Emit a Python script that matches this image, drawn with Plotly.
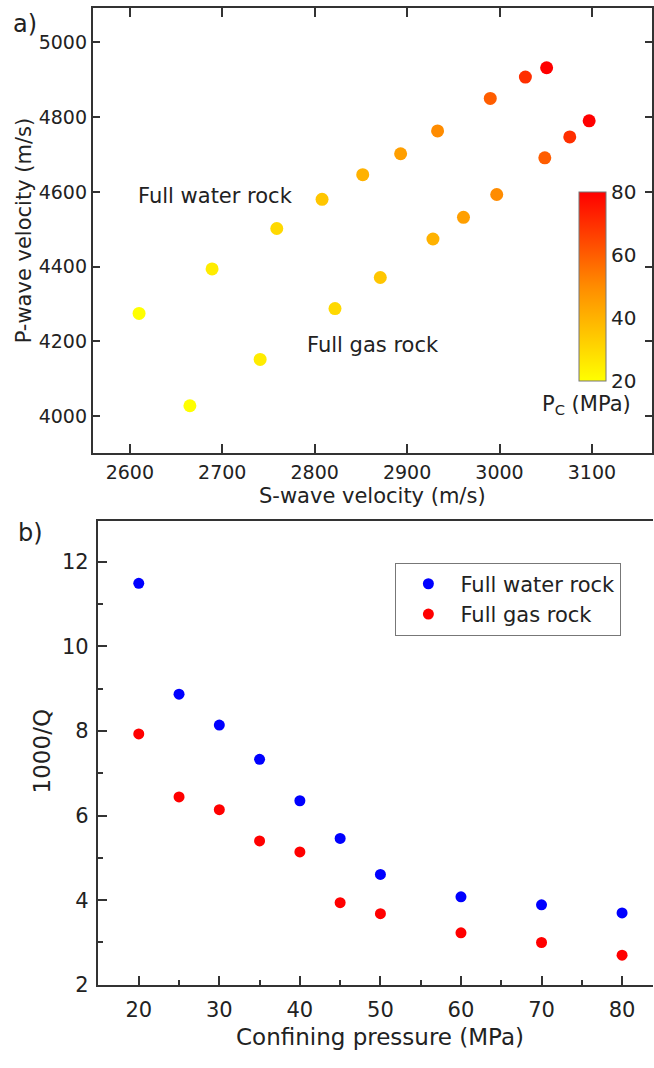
import plotly.graph_objects as go

# ---- data ----
pressure = [20, 25, 30, 35, 40, 45, 50, 60, 70, 80]  # confining pressure (MPa)

# panel a: velocities
vs_water = [2610, 2689, 2759, 2808, 2852, 2893, 2933, 2990, 3028, 3051]
vp_water = [4275, 4394, 4502, 4580, 4646, 4702, 4763, 4850, 4907, 4932]
vs_gas = [2665, 2741, 2822, 2871, 2928, 2961, 2997, 3049, 3076, 3097]
vp_gas = [4028, 4152, 4288, 4371, 4474, 4532, 4593, 4691, 4747, 4790]

# panel b: attenuation
q_water = [11.49, 8.87, 8.14, 7.33, 6.35, 5.46, 4.61, 4.08, 3.89, 3.70]
q_gas = [7.93, 6.44, 6.14, 5.40, 5.14, 3.94, 3.68, 3.23, 3.00, 2.70]

W, H = 654, 1068
FONT = "DejaVu Sans"
TXT = "#222222"
AX = "#333333"
scale = [[0, "#ffff00"], [0.5, "#ff8c00"], [1, "#ff0000"]]


def px(x):
    return x / W


def py(y):
    return 1 - y / H


def font(size):
    return dict(family=FONT, size=size, color=TXT)


fig = go.Figure()

# panel a: both rock states coloured by pressure
fig.add_trace(go.Scatter(
    x=vs_water, y=vp_water, mode="markers", xaxis="x", yaxis="y", showlegend=False,
    marker=dict(size=13, color=pressure, colorscale=scale, cmin=20, cmax=80,
                showscale=True,
                colorbar=dict(
                    x=px(580), xanchor="left", xpad=0,
                    y=py(289.5), yanchor="middle", ypad=0,
                    len=189, lenmode="pixels", thickness=27,
                    outlinewidth=1, outlinecolor="#777777",
                    tickvals=[20, 40, 60, 80], ticks="",
                    tickfont=font(20),
                )),
))
fig.add_trace(go.Scatter(
    x=vs_gas, y=vp_gas, mode="markers", xaxis="x", yaxis="y", showlegend=False,
    marker=dict(size=13, color=pressure, colorscale=scale, cmin=20, cmax=80),
))

# panel b: attenuation vs pressure
fig.add_trace(go.Scatter(
    x=pressure, y=q_water, mode="markers", name="Full water rock",
    xaxis="x2", yaxis="y2", marker=dict(size=11, color="#0000ff"),
))
fig.add_trace(go.Scatter(
    x=pressure, y=q_gas, mode="markers", name="Full gas rock",
    xaxis="x2", yaxis="y2", marker=dict(size=11, color="#ff0000"),
))

axis_common = dict(showline=True, linecolor=AX, linewidth=2, ticks="inside",
                   tickcolor=AX, tickwidth=2, showgrid=False, zeroline=False)

fig.update_layout(
    width=W, height=H, margin=dict(l=0, r=0, t=0, b=0),
    paper_bgcolor="white", plot_bgcolor="white",
    xaxis=dict(domain=[px(93), px(653)], range=[2560, 3165], anchor="y",
               tickvals=[2600, 2700, 2800, 2900, 3000, 3100], ticklen=9,
               mirror="ticks", tickfont=font(19), ticklabelstandoff=1,
               **axis_common),
    yaxis=dict(domain=[py(458), py(8)], range=[3902, 5092], anchor="x",
               tickvals=[4000, 4200, 4400, 4600, 4800, 5000], ticklen=7,
               mirror="ticks", tickfont=font(19), **axis_common),
    xaxis2=dict(domain=[px(98), 1.0], range=[14.92, 83.84], anchor="y2",
                tickvals=[20, 30, 40, 50, 60, 70, 80], ticklen=9, mirror=True,
                minor=dict(tickvals=[25, 35, 45, 55, 65, 75], ticklen=5,
                           tickcolor=AX, tickwidth=2, ticks="inside"),
                tickfont=font(21), ticklabelstandoff=5, **axis_common),
    yaxis2=dict(domain=[py(996), py(527)], range=[2, 12.96], anchor="x2",
                tickvals=[2, 4, 6, 8, 10, 12], ticklen=9,
                minor=dict(tickvals=[3, 5, 7, 9, 11], ticklen=5,
                           tickcolor=AX, tickwidth=2, ticks="inside"),
                tickfont=font(21), ticklabelstandoff=3, **axis_common),
    legend=dict(x=px(396), y=py(569), xanchor="left", yanchor="top",
                bordercolor="#777777", borderwidth=1, bgcolor="white",
                font=font(21), itemwidth=54, tracegroupgap=0),
)

ann = dict(showarrow=False, xref="paper", yref="paper")
labels = [
    dict(text="a)", x=px(11), y=py(24), xanchor="left", yanchor="middle",
         font=font(24)),
    dict(text="b)", x=px(16), y=py(539), xanchor="left", yanchor="middle",
         font=font(24)),
    dict(text="P-wave velocity (m/s)", x=px(24), y=py(233), textangle=-90,
         xanchor="center", yanchor="middle", font=font(21)),
    dict(text="S-wave velocity (m/s)", x=px(373), y=py(502),
         xanchor="center", yanchor="middle", font=font(21)),
    dict(text="1000/Q", x=px(43), y=py(760), textangle=-90,
         xanchor="center", yanchor="middle", font=font(23)),
    dict(text="Confining pressure (MPa)", x=px(381), y=py(1049),
         xanchor="center", yanchor="middle", font=font(23)),
    dict(text="Full water rock", x=px(216), y=py(198),
         xanchor="center", yanchor="middle", font=font(21)),
    dict(text="Full gas rock", x=px(374), y=py(349),
         xanchor="center", yanchor="middle", font=font(21)),
    dict(text="P<sub>C</sub> (MPa)", x=px(634), y=py(410),
         xanchor="right", yanchor="middle", font=font(21)),
]
for a in labels:
    d = dict(ann)
    d.update(a)
    fig.add_annotation(**d)

fig.write_html("out.html")
